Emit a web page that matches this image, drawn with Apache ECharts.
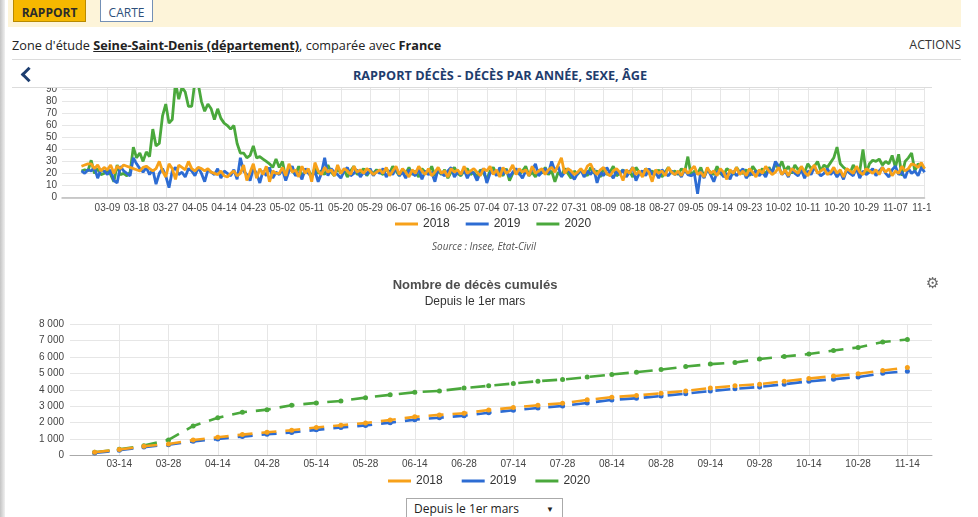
<!DOCTYPE html>
<html lang="fr">
<head>
<meta charset="utf-8">
<title>Rapport décès</title>
<script src="https://cdn.jsdelivr.net/npm/echarts@6/dist/echarts.min.js"></script>
<style>
  html, body { margin: 0; padding: 0; background: #fff; }
  body { width: 978px; height: 517px; overflow: hidden; position: relative; font-family: "Open Sans", sans-serif; color: #222; }
  .edge { position: absolute; left: 0; top: 0; width: 5px; height: 517px; background: linear-gradient(to right, #c4c4c4, #f0f0f0); }
  .tabs { position: absolute; left: 8px; top: 0; width: 953px; height: 27px; background: #fdf4d9; }
  .btn { position: absolute; top: -2px; height: 24px; line-height: 28px; font-size: 12px; box-sizing: border-box; text-align: center; }
  .btn.on { left: 5px; width: 73px; background: #f6b800; border: 1px solid #b88a00; font-weight: bold; color: #2b2b2b; }
  .btn.off { left: 92px; width: 53px; background: #fff; border: 1px solid #7390b6; color: #2d4f7a; }
  .zone { position: absolute; left: 12px; top: 37px; font-size: 12.7px; line-height: 16px; white-space: nowrap; }
  .zone u { font-weight: bold; }
  .actions { position: absolute; right: 17px; top: 37px; font-size: 12.4px; line-height: 16px; color: #333; }
  .rule { position: absolute; left: 12px; height: 1px; background: #dcdcdc; }
  .chev { position: absolute; left: 23px; top: 69px; width: 8px; height: 8px; border-left: 3px solid #1d3e70; border-bottom: 3px solid #1d3e70; transform: rotate(45deg); }
  .title { position: absolute; left: 300px; width: 400px; top: 67px; text-align: center; font-size: 12.7px; font-weight: bold; color: #1f3d6d; line-height: 16px; }
  .clip { position: absolute; left: 0; top: 88px; width: 931px; height: 170px; overflow: hidden; }
  #daily { position: absolute; left: 0; top: -30px; width: 940px; height: 200px; }
  .source { position: absolute; left: 384px; width: 200px; top: 239px; text-align: center; font-size: 10px; font-style: italic; color: #555; line-height: 14px; }
  #cumul { position: absolute; left: 0; top: 262px; width: 950px; height: 232px; }
  .gear { position: absolute; left: 926px; top: 274px; font-family: "DejaVu Sans", sans-serif; font-size: 15px; color: #666; line-height: 18px; }
  .select { position: absolute; left: 406px; top: 498px; width: 157px; height: 24px; box-sizing: border-box; border: 1px solid #aaa; font-size: 12px; line-height: 20px; padding-left: 7px; color: #222; background: #fff; }
  .select span { position: absolute; right: 8px; top: 0; font-size: 8px; }
</style>
</head>
<body>
<div class="edge"></div>
<div class="tabs">
  <div class="btn on">RAPPORT</div>
  <div class="btn off">CARTE</div>
</div>
<div class="zone">Zone d'étude <u>Seine-Saint-Denis (département)</u>, comparée avec <b>France</b></div>
<div class="actions">ACTIONS</div>
<div class="rule" style="top:59px;width:949px"></div>
<div class="chev"></div>
<div class="title">RAPPORT DÉCÈS - DÉCÈS PAR ANNÉE, SEXE, ÂGE</div>
<div class="rule" style="top:87px;width:920px"></div>
<div class="clip"><div id="daily"></div></div>
<div class="source">Source : Insee, Etat-Civil</div>
<div id="cumul"></div>
<div class="gear">⚙</div>
<div class="select">Depuis le 1er mars<span>▼</span></div>

<script>
// daily deaths, 1 March to 16 November
const leadDays = ['02-24', '02-25', '02-26', '02-27', '02-28', '02-29']

const deaths2018 = [
  26,27,28,28,24,27,22,25,23,27, 20,26,24,27,26,25,24,23,22,25, 26,24,22,24,30,22,17,28,24,15, 27,
  25,23,30,24,22,25,24,22,24,21, 20,19,22,18,17,20,22,18,20,27, 14,21,28,16,24,19,26,13,22,20,
  20,25,18,28,21,23,17,26,20,24, 13,29,22,19,25,21,23,18,27,20, 24,22,19,26,21,23,20,24,22,19, 21,
  23,20,25,18,22,26,19,24,21,17, 23,20,26,22,19,24,18,21,25,20, 22,17,24,21,23,19,26,20,22,24,
  21,18,24,22,26,19,23,17,25,20, 22,27,19,24,21,23,18,26,20,22, 24,19,23,25,21,27,33,20,24,22, 19,
  21,24,20,26,28,22,19,23,25,20, 18,22,24,21,14,23,20,25,19,22, 17,24,21,13,23,20,22,18,25,21, 19,
  22,18,24,20,23,26,19,21,17,25, 20,22,18,24,21,15,23,20,25,19, 22,18,24,21,17,23,20,26,22,19,
  21,25,19,23,18,24,22,20,26,21, 18,23,27,20,22,24,19,21,25,20, 23,17,24,22,20,26,21,19,24,22, 20,
  23,19,25,21,24,18,22,20,26,22, 24,28,27,25,29,24
]
const deaths2019 = [
  22,20,23,22,25,16,23,22,19,23, 14,12,26,22,20,18,33,28,24,21, 25,19,23,11,20,24,18,8,22,25, 19,
  21,17,24,22,18,25,20,13,23,21, 19,24,16,22,20,18,23,15,33,22, 19,14,24,20,12,22,18,25,16,21,
  19,23,14,22,26,18,21,15,24,20, 17,22,13,20,33,18,24,21,19,16, 22,25,18,20,23,17,21,19,24,18, 22,
  20,24,17,22,19,25,18,21,16,23, 20,18,24,15,22,19,21,13,24,20, 18,22,25,17,21,19,23,16,22,20,
  14,21,24,12,20,22,18,25,19,23, 17,21,24,20,16,22,19,23,28,18, 21,24,20,30,22,26,17,21,24,19, 15,
  20,23,17,22,19,24,12,21,18,25, 20,16,22,19,23,17,21,25,14,20, 22,18,24,19,21,16,23,20,18,22, 19,
  21,17,23,19,18,20,3,22,16,24, 19,13,21,23,17,20,15,22,18,21, 24,16,20,19,22,18,21,17,24,20,
  30,26,19,22,17,24,20,18,23,16, 22,19,25,21,18,20,24,19,22,17, 21,15,23,20,18,25,16,22,19,21, 24,
  18,22,25,20,17,23,26,19,21,16, 24,20,22,18,25,21
]
const deaths2020 = [
  22,23,22,31,20,24,19,20,23,19, 13,27,19,20,18,21,42,33,37,30, 38,34,57,43,45,68,78,62,65,96, 82,
  92,88,76,76,97,95,80,72,78,74, 65,74,66,62,60,57,60,45,37,37, 33,35,43,33,34,32,30,28,25,32,
  25,30,16,24,22,19,26,18,21,23, 17,25,20,22,19,27,21,18,24,20, 23,17,22,26,19,21,24,18,22,20, 23,
  21,19,24,20,26,22,18,23,20,25, 19,22,17,24,21,20,26,18,22,19, 23,16,21,25,20,18,22,24,19,21,
  17,23,20,15,22,25,19,21,18,24, 14,20,23,19,22,26,18,21,17,23, 20,25,19,22,13,21,18,24,20,16, 22,
  19,23,21,18,25,20,22,17,24,19, 21,26,18,20,23,19,22,17,25,21, 18,24,20,22,19,23,17,21,25,20, 22,
  19,24,21,34,18,22,20,25,17,23, 21,19,26,20,18,24,22,19,25,21, 20,23,18,26,22,20,24,19,25,21,
  28,24,30,22,26,20,27,23,25,21, 28,24,26,30,22,27,25,29,33,42, 28,25,23,20,27,22,22,40,20,28, 31,
  30,32,27,30,28,35,25,36,18,30, 33,37,22,28,26,24
]
const dailyTicks = [0, 10, 20, 30, 40, 50, 60, 70, 80, 90, 100]

// cumulative deaths since 1 March
const weeks = [
  '03-07', '03-14', '03-21', '03-28', '04-07', '04-14', '04-21', '04-28',
  '05-07', '05-14', '05-21', '05-28', '06-07', '06-14', '06-21', '06-28',
  '07-07', '07-14', '07-21', '07-28', '08-07', '08-14', '08-21', '08-28',
  '09-07', '09-14', '09-21', '09-28', '10-07', '10-14', '10-21', '10-28',
  '11-07', '11-14'
]
const cumul2018 = [
  195, 360, 560, 700, 945, 1110, 1270, 1415, 1535, 1700, 1840, 1980, 2160, 2350, 2470, 2570,
  2770, 2915, 3060, 3180, 3385, 3550, 3650, 3790, 3930, 4100, 4240, 4340, 4520, 4680, 4830, 4970,
  5170, 5350
]
const cumul2019 = [
  150, 320, 510, 660, 860, 1000, 1150, 1290, 1400, 1560, 1700, 1830, 2000, 2180, 2300, 2420,
  2600, 2750, 2890, 3010, 3200, 3380, 3480, 3620, 3760, 3920, 4060, 4170, 4340, 4510, 4640, 4770,
  5000, 5130
]
const cumul2020 = [
  200, 380, 600, 950, 1800, 2290, 2630, 2790, 3060, 3200, 3320, 3520, 3690, 3850, 3930, 4100,
  4240, 4380, 4520, 4620, 4770, 4930, 5070, 5230, 5410, 5560, 5660, 5870, 6025, 6170, 6390, 6575,
  6900, 7060
]
const cumulTicks = [0, 1000, 2000, 3000, 4000, 5000, 6000, 7000, 8000]

const colors = { '2018': '#f7a11a', '2019': '#2d6cd3', '2020': '#4aa83c' }
const axisFont = "'Liberation Sans', Arial, sans-serif"

const mmdd = d => String(d.getMonth() + 1).padStart(2, '0') + '-' + String(d.getDate()).padStart(2, '0')
const days = deaths2018.map((v, i) => mmdd(new Date(2020, 2, 1 + i)))
const dailyAxis = leadDays.concat(days)
const firstLabel = dailyAxis.indexOf('03-09')
const showDaily = idx => idx >= firstLabel && (idx - firstLabel) % 9 === 0

const weekAxis = [''].concat(weeks, [' '])
const showWeek = idx => idx >= 2 && idx <= weeks.length && idx % 2 === 0

const spaced = v => String(v).replace(/\B(?=(\d{3})+(?!\d))/g, ' ')

const daily = echarts.init(document.getElementById('daily'))
const dailySeries = (name, vals, z) => ({
  name,
  type: 'line',
  z,
  symbol: 'none',
  lineStyle: { width: 2.8, color: colors[name] },
  itemStyle: { color: colors[name] },
  data: days.map((d, i) => [d, vals[i]])
})

daily.setOption({
  animation: false,
  textStyle: { fontFamily: axisFont },
  grid: { left: 62, right: 7, top: 19.7, bottom: 60.7 },
  legend: {
    data: ['2018', '2019', '2020'],
    left: 390,
    top: 155,
    icon: 'rect',
    itemWidth: 23,
    itemHeight: 3,
    itemGap: 16,
    textStyle: { fontSize: 12, color: '#333', fontFamily: axisFont }
  },
  xAxis: {
    type: 'category',
    boundaryGap: false,
    data: dailyAxis,
    axisLine: { lineStyle: { color: '#bdbdbd', width: 1.5 } },
    axisTick: { show: false },
    axisLabel: { interval: showDaily, fontSize: 10, color: '#444', margin: 6 },
    splitLine: { show: true, interval: showDaily, lineStyle: { color: '#e6e6e6' } }
  },
  yAxis: {
    type: 'value',
    min: dailyTicks[0],
    max: dailyTicks[dailyTicks.length - 1],
    interval: 10,
    axisLabel: { fontSize: 10, color: '#444', margin: 5 },
    splitLine: { lineStyle: { color: '#e6e6e6' } }
  },
  series: [
    dailySeries('2020', deaths2020, 1),
    dailySeries('2019', deaths2019, 2),
    dailySeries('2018', deaths2018, 3)
  ]
})

const cumul = echarts.init(document.getElementById('cumul'))
const cumulSeries = (name, vals, z) => ({
  name,
  type: 'line',
  z,
  symbol: 'circle',
  symbolSize: 5,
  lineStyle: { width: 2.6, color: colors[name], type: [15, 9] },
  itemStyle: { color: colors[name] },
  data: weeks.map((w, i) => [w, vals[i]])
})

cumul.setOption({
  animation: false,
  textStyle: { fontFamily: axisFont },
  title: [
    {
      text: 'Nombre de décès cumulés',
      left: 'center',
      top: 12,
      textStyle: { fontSize: 13, fontWeight: 'bold', color: '#4d4d4d', fontFamily: axisFont }
    },
    {
      text: 'Depuis le 1er mars',
      left: 'center',
      top: 29,
      textStyle: { fontSize: 12, fontWeight: 'normal', color: '#333', fontFamily: axisFont }
    }
  ],
  grid: { left: 70, right: 18, top: 62, bottom: 38.5 },
  legend: {
    data: ['2018', '2019', '2020'],
    left: 383,
    top: 208,
    icon: 'rect',
    itemWidth: 23,
    itemHeight: 3,
    itemGap: 19,
    textStyle: { fontSize: 12, color: '#333', fontFamily: axisFont }
  },
  xAxis: {
    type: 'category',
    boundaryGap: false,
    data: weekAxis,
    axisLine: { lineStyle: { color: '#aaa', width: 1 } },
    axisTick: { show: false },
    axisLabel: { interval: showWeek, fontSize: 10, color: '#444', margin: 4 },
    splitLine: { show: true, interval: showWeek, lineStyle: { color: '#e6e6e6' } }
  },
  yAxis: {
    type: 'value',
    min: cumulTicks[0],
    max: cumulTicks[cumulTicks.length - 1],
    interval: 1000,
    axisLabel: { fontSize: 10, color: '#444', margin: 6, formatter: spaced },
    splitLine: { lineStyle: { color: '#e6e6e6' } }
  },
  series: [
    cumulSeries('2020', cumul2020, 1),
    cumulSeries('2019', cumul2019, 2),
    cumulSeries('2018', cumul2018, 3)
  ]
})
</script>
</body>
</html>
